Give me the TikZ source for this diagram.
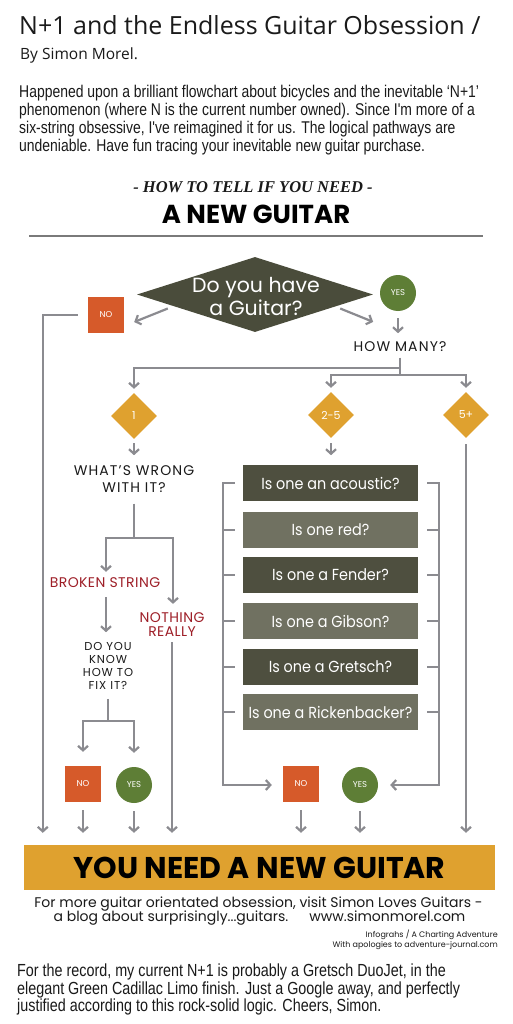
\documentclass[tikz,border=0pt]{standalone}
\usepackage{fontspec}
\usetikzlibrary{shapes.geometric,arrows.meta,calc}
\setmainfont{Liberation Sans}
\newfontfamily\titlefont{Open Sans}
\newfontfamily\narrowfont[FakeStretch=0.82]{Liberation Sans}
\newfontfamily\geo{Poppins}
\newfontfamily\geowide[LetterSpace=8]{Poppins}
\newfontfamily\geomid[LetterSpace=3]{Poppins}
\newfontfamily\geonarrow[FakeStretch=0.9]{Poppins}
\newfontfamily\slabfont{Liberation Serif}
\definecolor{cDia}{HTML}{4A4C3B}
\definecolor{cBoxD}{HTML}{4E4F3F}
\definecolor{cBoxL}{HTML}{707161}
\definecolor{cNo}{HTML}{D65A2A}
\definecolor{cYes}{HTML}{5E7E36}
\definecolor{cGold}{HTML}{DFA12F}
\definecolor{cArr}{HTML}{8B8B90}
\definecolor{cRed}{HTML}{9E1F28}
\definecolor{cRule}{HTML}{7A7A7A}
\definecolor{cText}{HTML}{1A1A1A}
\begin{document}
\begin{tikzpicture}[x=1pt,y=-1pt,
  ln/.style={draw=cArr, line width=2.2pt},
  arr/.style={ln, -{Straight Barb[length=4.5pt,width=10pt]}},
  nobox/.style={rectangle, fill=cNo, minimum width=36pt, minimum height=36pt, inner sep=0pt, text=white, font=\geo\fontsize{8.5}{9}\selectfont},
  yescirc/.style={circle, fill=cYes, minimum size=36pt, inner sep=0pt, text=white, font=\geo\fontsize{8.5}{9}\selectfont},
  golddia/.style={diamond, fill=cGold, minimum width=46pt, minimum height=46pt, inner sep=0pt, text=white, font=\geo\fontsize{11}{12}\selectfont},
  qboxd/.style={rectangle, fill=cBoxD, minimum width=175pt, minimum height=36pt, inner sep=0pt, text=white, font=\geonarrow\fontsize{16}{18}\selectfont},
  qboxl/.style={qboxd, fill=cBoxL},
  capl/.style={inner sep=0pt, align=center, text=cText, font=\geowide\fontsize{14}{17}\selectfont},
  redl/.style={inner sep=0pt, align=center, text=cRed, font=\geomid\fontsize{14}{14}\selectfont},
  smallcap/.style={inner sep=0pt, align=center, text=cText, font=\geowide\fontsize{11.5}{13}\selectfont},
]
\useasboundingbox[fill=white] (0,0) rectangle (512,1024);

% ---------- header ----------
\node[anchor=base west, inner sep=0pt, text=cText, font=\titlefont\fontsize{25}{28}\selectfont] (title) at (19,35) {N+1 and the Endless Guitar Obsession /};
\node[anchor=base west, inner sep=0pt, text=cText, font=\titlefont\fontsize{15.5}{18}\selectfont] (byline) at (20,59.5) {By Simon Morel.};
\node[anchor=north west, inner sep=0pt, align=left, text=cText, font=\narrowfont\fontsize{17}{18}\selectfont] (intro) at (19,85) {Happened upon a brilliant flowchart about bicycles and the inevitable ‘N+1’\\phenomenon (where N is the current number owned). Since I'm more of a\\six-string obsessive, I've reimagined it for us. The logical pathways are\\undeniable. Have fun tracing your inevitable new guitar purchase.};

\node[anchor=base, inner sep=0pt, text=cText, font=\slabfont\bfseries\itshape\fontsize{16.5}{17}\selectfont] (howto) at (253,193) {- HOW TO TELL IF YOU NEED -};
\node[anchor=base, inner sep=0pt, text=black, font=\geo\bfseries\fontsize{26}{27}\selectfont] (anew) at (256,223) {A NEW GUITAR};
\draw[cRule, line width=1.6pt] (29,236) -- (483,236);

% ---------- top question ----------
\node[diamond, fill=cDia, minimum width=236pt, minimum height=75pt, inner sep=0pt] (q1) at (255,294.5) {};
\node[inner sep=0pt, align=center, text=white, font=\geo\fontsize{20.5}{23}\selectfont] (q1t) at (256,297) {Do you have\\a Guitar?};
\node[nobox] (no1) at (106,315) {NO};
\node[yescirc] (yes1) at (398,293) {YES};
\node[capl] (howmany) at (400,346.5) {HOW MANY?};

\draw[arr] ($(q1.west)+(31,14)$) -- ($(no1.east)+(10,7)$);
\draw[arr] ($(q1.east)+(-33,14)$) -- ($(yes1.south west)+(-12,16)$);
\draw[arr] ($(yes1.south)+(0,7)$) -- ++(0,15);

% ---------- diamonds ----------
\node[golddia] (d1) at (134,416) {1};
\node[golddia] (d2) at (331,415) {2-5};
\node[golddia] (d3) at (466,415) {5+};

\coordinate (hj1) at (400,368);
\coordinate (hj2) at (400,375);
\draw[ln] ($(howmany.south)+(0,6)$) -- (hj2);
\draw[arr] (hj1) -| ($(d1.north)+(0,-4)$);
\draw[arr] (hj2) -| ($(d2.north)+(0,-4)$);
\draw[arr] (hj2) -| ($(d3.north)+(0,-4)$);

% ---------- branch 1 ----------
\node[capl] (what) at (134,479) {WHAT’S WRONG\\WITH IT?};
\draw[arr] ($(d1.south)+(0,4)$) -- ++(0,12);
\coordinate (wj) at (134,538);
\draw[ln] ($(what.south)+(0,11)$) -- (wj);
\node[redl] (broken) at (105,583) {BROKEN STRING};
\node[redl] (nothing) at (172,625) {NOTHING\\REALLY};
\draw[arr] (wj) -| ($(broken.north)+(1,-6)$);
\draw[arr] (wj) -| ($(nothing.north)+(1,-9)$);
\node[smallcap] (fix) at (108,666) {DO YOU\\KNOW\\HOW TO\\FIX IT?};
\draw[arr] ($(broken.south)+(1,9)$) -- ($(fix.north)+(-2,-10)$);
\coordinate (fj) at (108,721);
\draw[ln] ($(fix.south)+(0,9)$) -- (fj);
\node[nobox] (no2) at (83,784) {NO};
\node[yescirc] (yes2) at (134,785) {YES};
\draw[arr] (fj) -| ($(no2.north)+(0,-14)$);
\draw[arr] (fj) -| ($(yes2.north)+(0,-14)$);

% ---------- branch 2-5 ----------
\draw[arr] ($(d2.south)+(0,5)$) -- ++(0,12);
\node[qboxd] (b1) at (330.5,483) {Is one an acoustic?};
\node[qboxl] (b2) at (330.5,530) {Is one red?};
\node[qboxd] (b3) at (330.5,575) {Is one a Fender?};
\node[qboxl] (b4) at (330.5,621) {Is one a Gibson?};
\node[qboxd] (b5) at (330.5,667) {Is one a Gretsch?};
\node[qboxl] (b6) at (330.5,712) {Is one a Rickenbacker?};
\node[nobox] (no3) at (301,784) {NO};
\node[yescirc] (yes3) at (360,785) {YES};
\foreach \b in {b1,b2,b3,b4,b5,b6}{
  \draw[ln] ($(\b.west)+(-8,0)$) -- ($(\b.west)+(-20,0)$);
  \draw[ln] ($(\b.east)+(9,0)$) -- ($(\b.east)+(21,0)$);
}
\draw[arr] ($(b1.west)+(-20,-1)$) |- ($(no3.west)+(-11,1)$);
\draw[arr] ($(b1.east)+(21,-1)$) |- ($(yes3.east)+(12,0)$);

% ---------- result ----------
\node[rectangle, fill=cGold, minimum width=471pt, minimum height=45pt, inner sep=0pt, text=black, font=\geo\bfseries\fontsize{30}{30}\selectfont] (banner) at (259.5,867.5) {YOU NEED A NEW GUITAR};

\draw[arr] ($(no1.west)+(-10,0)$) -| ($(banner.north west)+(19,-12)$);
\draw[arr] ($(no2.south)+(0,8)$) -- ($(no2.south |- banner.north)+(0,-12)$);
\draw[arr] ($(yes2.south)+(0,8)$) -- ($(yes2.south |- banner.north)+(0,-12)$);
\draw[arr] ($(nothing.south)+(0,5)$) -- ($(nothing.south |- banner.north)+(0,-12)$);
\draw[arr] ($(no3.south)+(0,8)$) -- ($(no3.south |- banner.north)+(0,-12)$);
\draw[arr] ($(yes3.south)+(0,8)$) -- ($(yes3.south |- banner.north)+(0,-12)$);
\draw[arr] ($(d3.south)+(0,6)$) -- ($(d3.south |- banner.north)+(0,-12)$);

% ---------- footer ----------
\node[anchor=base, inner sep=0pt, text=cText, font=\geo\fontsize{14}{14}\selectfont] (foot1) at (258.5,907) {For more guitar orientated obsession, visit Simon Loves Guitars -};
\node[anchor=base, inner sep=0pt, text=cText, font=\geo\fontsize{14}{14}\selectfont] (foot2) at (259.5,921) {a blog about surprisingly...guitars.\quad\enspace www.simonmorel.com};
\node[anchor=base east, inner sep=0pt, text=cText, font=\geo\fontsize{8}{8}\selectfont] (cred1) at (498,937) {Infograhs / A Charting Adventure};
\node[anchor=base east, inner sep=0pt, text=cText, font=\geo\fontsize{8}{8}\selectfont] (cred2) at (498,947) {With apologies to adventure-journal.com};
\node[anchor=north west, inner sep=0pt, align=left, text=cText, font=\narrowfont\fontsize{17.5}{16}\selectfont] (outro) at (17,964) {For the record, my current N+1 is probably a Gretsch DuoJet, in the\\elegant Green Cadillac Limo finish. Just a Google away, and perfectly\\justified according to this rock-solid logic. Cheers, Simon.};
\end{tikzpicture}
\end{document}
